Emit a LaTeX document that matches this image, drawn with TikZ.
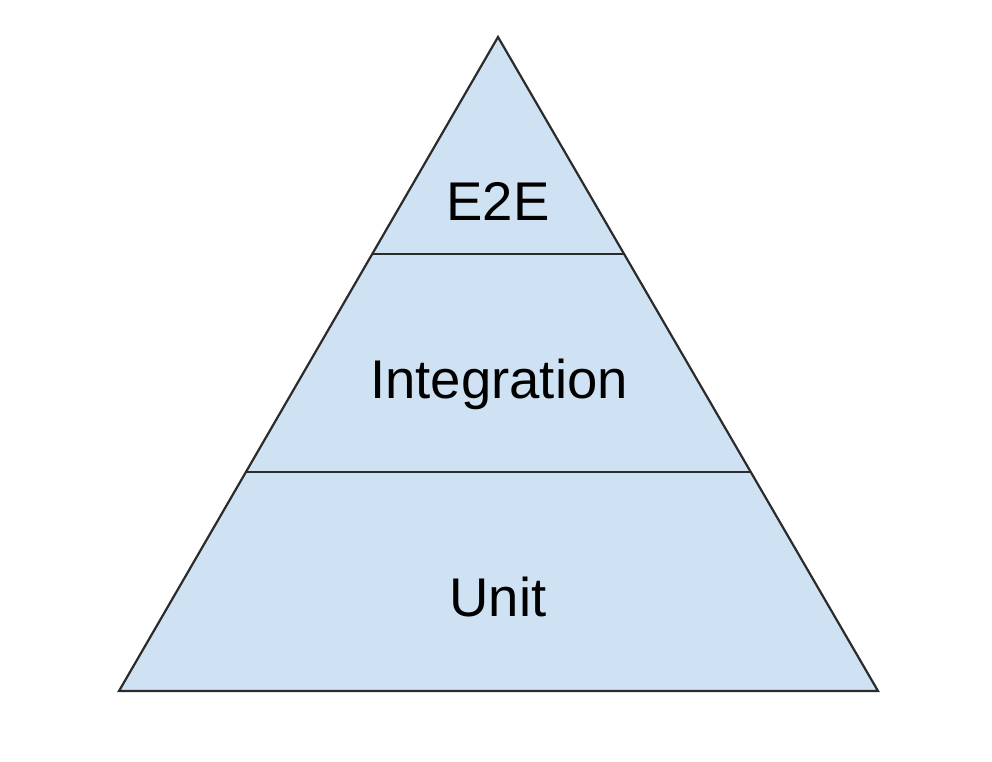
\documentclass[tikz,border=0pt]{standalone}
\usepackage{fontspec}
\setmainfont{Liberation Sans}
\definecolor{tierfill}{HTML}{CFE2F3}
\definecolor{tierline}{HTML}{2B2B2B}
\begin{document}
\begin{tikzpicture}[x=1pt,y=-1pt,
  tierlabel/.style={anchor=base,inner sep=0pt,font=\fontsize{54.5}{60}\selectfont,text=black},
  edge/.style={draw=tierline,line width=2.2pt,line join=miter}]
\useasboundingbox (0,0) rectangle (992,762);
\coordinate (apex) at (498,37);
\coordinate (bl) at (119,691);
\coordinate (br) at (878,691);
\coordinate (l1) at (372.2,254);
\coordinate (r1) at (624.2,254);
\coordinate (l2) at (245.9,472);
\coordinate (r2) at (750.7,472);
\fill[tierfill] (apex) -- (bl) -- (br) -- cycle;
\draw[edge] (apex) -- (bl) -- (br) -- cycle;
\draw[edge] (l1) -- (r1);
\draw[edge] (l2) -- (r2);
\node[tierlabel] (e2e) at (498,220) {E2E};
\node[tierlabel] (integ) at (499,398) {Integration};
\node[tierlabel] (unit) at (498,616) {Unit};
\end{tikzpicture}
\end{document}
